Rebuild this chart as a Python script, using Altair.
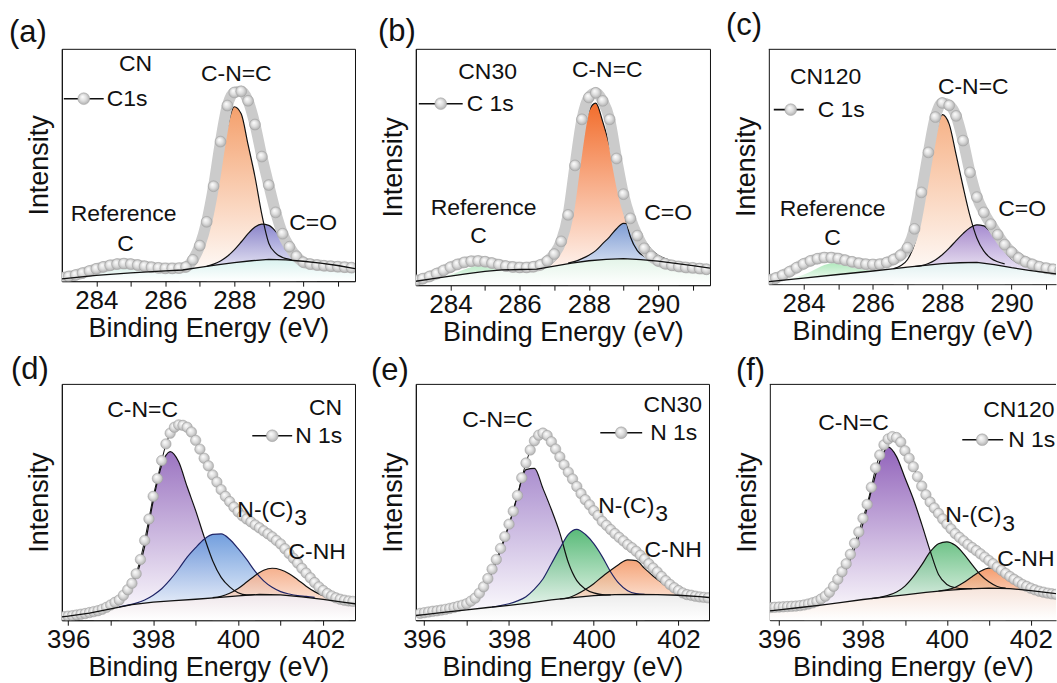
import altair as alt
import pandas as pd

FONT = "Liberation Sans"
INK = "#111111"

C_TICKS = [284, 285, 286, 287, 288, 289, 290, 291]
N_TICKS = [396, 397, 398, 399, 400, 401, 402]

# ---------------- (a) CN, C 1s ----------------
A_ENV = [1.5, 2.0, 2.6, 3.4, 4.3, 5.2, 6.0, 6.7, 7.2, 7.4,
         7.2, 6.8, 6.3, 5.9, 5.6, 5.4, 5.4, 5.5, 6.0, 9.0,
         15.0, 25.0, 40.0, 58.8, 74.0, 79.5, 80.0, 76.0, 66.0, 52.5,
         40.5, 29.0, 20.0, 14.5, 10.5, 8.0, 7.2, 6.8, 6.5, 6.3,
         6.1, 5.9, 5.7]                                   # 283.0 .. step 0.2
A_BASE_X = [283.0, 284.0, 285.0, 286.0, 286.5, 287.0, 287.5, 288.0, 288.5, 289.0, 289.5, 290.0, 290.5, 291.0, 291.5]
A_BASE = [1.0, 2.4, 3.5, 4.3, 4.7, 5.8, 6.9, 7.8, 8.6, 9.2, 9.0, 8.4, 7.6, 6.6, 5.3]
A_CNC = [4.6, 5.1, 6.6, 11.0, 20.0, 34.0, 51.0, 65.0, 73.5, 70.5, 57.5, 44.0, 28.0, 16.0, 11.8, 10.0, 9.2, 8.8]  # 286.4
A_CO = [6.3, 7.2, 8.5, 10.5, 13.2, 16.5, 20.0, 22.8, 24.0, 23.5, 21.0, 17.5, 14.0, 11.5, 9.8, 8.9, 8.2]          # 287.2
A_REF = [1.8, 2.2, 2.8, 3.6, 4.5, 5.4, 6.0, 6.2, 6.0, 5.5, 4.9, 4.4, 4.1, 4.3]                                   # 283.4

# ---------------- (b) CN30, C 1s ----------------
B_ENV = [2.0, 2.8, 3.8, 5.0, 6.4, 7.8, 9.0, 9.9, 10.4, 10.5,
         10.2, 9.6, 8.9, 8.3, 7.9, 7.7, 7.7, 8.0, 8.8, 10.5,
         13.5, 19.0, 30.5, 52.0, 72.0, 81.5, 83.5, 80.0, 72.0, 55.0,
         39.5, 29.0, 21.5, 16.0, 12.5, 10.5, 9.3, 8.6, 8.1, 7.7,
         7.5, 7.2, 6.9]
B_BASE_X = [283.0, 283.5, 284.0, 284.5, 285.0, 285.5, 286.0, 286.5, 287.0, 287.5, 288.0, 288.5, 289.0, 289.5, 290.0, 290.5, 291.0, 291.5]
B_BASE = [1.7, 2.8, 3.9, 5.0, 6.0, 6.6, 6.8, 7.0, 8.3, 9.6, 10.6, 11.2, 11.5, 11.1, 10.4, 9.5, 8.5, 7.4]
B_CNC = [7.2, 8.2, 10.5, 15.0, 25.0, 44.0, 63.0, 75.5, 79.0, 71.0, 60.5, 47.5, 33.0, 21.0, 15.0, 12.5, 11.5, 10.8]  # 286.6
B_CO = [9.6, 10.3, 11.5, 13.0, 15.0, 18.0, 21.0, 24.5, 26.8, 26.5, 23.5, 19.5, 15.5, 13.0, 11.5, 10.5, 9.8]        # 287.4
B_REF = [2.6, 3.0, 3.6, 4.5, 5.6, 6.8, 7.8, 8.5, 8.6, 8.3, 7.7, 7.1, 6.8, 6.8]                                    # 283.4

# ---------------- (c) CN120, C 1s ----------------
C_ENV = [1.8, 2.6, 3.8, 5.3, 7.0, 8.6, 9.9, 10.8, 11.3, 11.3,
         10.9, 10.2, 9.5, 8.9, 8.5, 8.4, 8.5, 9.2, 10.5, 12.3,
         15.5, 23.5, 39.0, 56.0, 71.0, 77.0, 76.0, 71.5, 61.0, 47.5,
         37.0, 30.5, 25.5, 21.0, 16.8, 13.6, 11.1, 9.5, 8.4, 7.4,
         6.8, 6.3, 5.9]
C_BASE_X = [283.0, 284.0, 285.0, 286.0, 286.5, 287.0, 287.5, 288.0, 288.5, 289.0, 289.5, 290.0, 290.5, 291.0, 291.5]
C_BASE = [1.1, 2.6, 4.1, 5.6, 6.4, 7.2, 8.0, 8.7, 9.1, 9.3, 8.3, 7.0, 5.9, 4.9, 3.9]
C_CNC = [6.6, 7.8, 10.5, 17.0, 30.0, 47.0, 63.0, 72.0, 68.0, 55.0, 41.5, 29.0, 19.5, 14.0, 11.0, 9.5, 8.6]        # 286.6
C_CO = [7.5, 7.9, 8.8, 10.3, 12.5, 15.3, 18.5, 21.5, 24.0, 25.2, 24.8, 22.0, 18.0, 14.0, 10.8, 8.8, 7.6, 6.5]    # 287.2
C_REF = [1.8, 2.3, 3.0, 4.0, 5.3, 6.8, 8.1, 8.9, 9.0, 8.6, 7.8, 6.9, 6.1, 5.7, 5.9]                              # 283.4

# ---------------- (d) CN, N 1s ----------------
D_ENV = [1.5, 1.7, 1.9, 2.2, 2.5, 2.8, 3.2, 3.6, 4.0, 4.6,
         5.4, 6.4, 7.5, 8.5, 10.5, 12.8, 15.5, 19.5, 25.5, 33.5,
         42.5, 52.0, 59.5, 67.0, 74.0, 78.5, 81.0, 82.0, 81.8, 81.0,
         79.0, 75.5, 71.8, 68.0, 64.8, 61.0, 58.0, 54.8, 52.0, 49.8,
         47.5, 45.5, 43.8, 42.5, 41.3, 40.0, 38.8, 37.5, 36.3, 35.0,
         33.5, 32.0, 30.0, 28.0, 26.0, 24.0, 21.8, 19.8, 17.8, 15.8,
         14.0, 12.5, 11.2, 10.2, 9.4, 8.8, 8.4, 8.1, 7.9]    # 395.9 .. step 0.1
D_BASE_X = [395.85, 396.0, 396.5, 397.0, 397.5, 398.0, 398.5, 399.0, 399.5, 400.0, 400.5, 401.0, 401.5, 402.0, 402.5, 402.75]
D_BASE = [1.4, 1.7, 3.0, 4.8, 6.5, 7.6, 8.2, 8.8, 9.5, 10.2, 10.8, 10.6, 9.8, 8.7, 7.5, 6.9]
D_CNC = [3.5, 4.2, 5.8, 8.2, 12.3, 18.5, 31.0, 50.0, 65.0, 70.8, 66.5, 56.0, 46.0, 35.0, 25.0, 18.0, 14.0, 11.5, 10.6, 10.7]  # 396.6
D_NC3 = [5.6, 6.3, 7.2, 8.5, 10.5, 13.2, 17.0, 21.5, 26.5, 30.5, 34.0, 36.0, 36.2, 34.0, 30.0, 25.5, 20.5, 16.5, 13.8, 12.0,
         11.0, 10.3, 10.0, 9.6]                                                                                    # 397.2
D_CNH = [9.5, 10.0, 11.3, 13.3, 16.0, 18.8, 21.0, 21.8, 21.2, 19.5, 17.0, 14.3, 12.0, 10.3, 9.3, 8.3, 7.5]          # 399.4

# ---------------- (e) CN30, N 1s ----------------
E_ENV = [2.9, 3.2, 3.5, 3.8, 4.0, 4.3, 4.6, 5.0, 5.4, 5.9,
         6.4, 7.0, 8.1, 9.4, 11.5, 14.2, 17.7, 21.7, 25.8, 30.5,
         35.5, 40.8, 46.3, 53.0, 60.5, 66.8, 72.3, 76.2, 78.6, 79.5,
         78.5, 75.8, 72.7, 69.4, 66.0, 62.9, 60.0, 56.8, 53.8, 51.2,
         49.0, 46.5, 44.5, 42.0, 40.3, 38.5, 36.8, 35.2, 33.7, 32.1,
         30.8, 29.3, 27.6, 26.0, 24.0, 22.2, 20.5, 18.6, 16.8, 15.2,
         13.8, 12.6, 11.6, 10.9, 10.6, 10.2, 9.9, 9.7, 9.5]   # 395.9 .. step 0.1
E_BASE_X = [395.8, 396.0, 396.5, 397.0, 397.5, 398.0, 398.5, 399.0, 399.5, 400.0, 400.5, 401.0, 401.5, 402.0, 402.5, 402.75]
E_BASE = [2.0, 2.4, 3.4, 4.4, 5.4, 6.3, 7.4, 8.6, 9.6, 10.4, 10.9, 11.0, 10.9, 10.6, 10.0, 9.6]
E_CNC = [3.6, 4.4, 5.8, 8.4, 13.0, 20.5, 29.5, 40.5, 53.0, 64.0, 64.5, 56.0, 47.0, 37.0, 24.5, 16.8, 13.3, 11.6, 10.9, 10.8]  # 396.6
E_NC3 = [5.6, 6.2, 7.0, 8.2, 10.0, 13.2, 17.5, 24.0, 30.5, 36.5, 38.6, 36.5, 32.5, 27.0, 20.5, 15.5, 12.5, 11.3, 11.0]  # 397.6
E_CNH = [9.0, 9.5, 11.0, 13.0, 15.5, 18.5, 21.2, 23.8, 25.6, 25.3, 22.0, 18.8, 16.0, 13.7, 11.8, 10.8, 10.3, 10.0]    # 399.2

# ---------------- (f) CN120, N 1s ----------------
F_ENV = [5.4, 5.5, 5.6, 5.7, 5.8, 5.9, 6.0, 6.2, 6.5, 6.9,
         7.4, 8.0, 9.0, 10.2, 11.9, 14.4, 17.4, 20.6, 24.0, 28.0,
         32.7, 37.5, 43.3, 49.2, 56.5, 64.7, 70.2, 74.5, 77.0, 78.0,
         77.6, 75.7, 72.0, 68.8, 65.2, 61.0, 57.0, 53.3, 50.2, 47.7,
         45.4, 43.0, 40.8, 38.8, 36.8, 35.2, 33.7, 32.2, 30.9, 29.6,
         28.2, 26.8, 25.4, 24.0, 22.6, 21.2, 19.9, 18.6, 17.4, 16.3,
         15.2, 14.4, 13.6, 12.9, 12.3, 11.9, 11.5, 11.2, 11.0]  # 395.8 .. step 0.1
F_BASE_X = [395.78, 396.0, 396.5, 397.0, 397.5, 398.0, 398.5, 399.0, 399.5, 400.0, 400.5, 401.0, 401.5, 402.0, 402.65]
F_BASE = [4.0, 4.4, 5.4, 6.4, 7.6, 8.8, 9.8, 10.8, 11.8, 12.7, 13.3, 13.6, 13.4, 12.6, 11.2]
F_CNC = [5.8, 6.6, 8.2, 11.0, 15.5, 21.8, 30.5, 41.0, 55.0, 67.5, 73.5, 69.5, 60.5, 51.5, 40.8, 29.5, 19.4, 15.2, 13.8, 13.4, 13.4]  # 396.6
F_NC3 = [9.2, 9.7, 10.6, 12.0, 14.5, 18.5, 23.5, 29.0, 32.5, 33.3, 31.8, 28.2, 23.6, 19.3, 16.3, 14.3, 13.6]       # 398.2
F_CNH = [12.4, 12.9, 14.0, 16.0, 18.5, 20.8, 22.1, 21.6, 19.4, 16.8, 14.9, 13.6, 12.6, 11.8, 11.3]                 # 399.8

# ---------------- text labels (page positions) ----------------
TXT_A = [("CN", 135, 62, "center"), ("C-N=C", 236, 72, "center"), ("C1s", 106, 97, "left"),
         ("Reference", 123, 213, "center"), ("C", 125, 243, "center"), ("C=O", 313, 222, "center")]
TXT_B = [("CN30", 487, 70, "center"), ("C-N=C", 607, 68, "center"), ("C 1s", 466, 102, "left"),
         ("Reference", 483, 207, "center"), ("C", 478, 235, "center"), ("C=O", 668, 212, "center")]
TXT_C = [("CN120", 825, 75, "center"), ("C-N=C", 973, 85, "center"), ("C 1s", 817, 108, "left"),
         ("Reference", 832, 208, "center"), ("C", 832, 237, "center"), ("C=O", 1022, 208, "center")]
TXT_D = [("C-N=C", 142, 407, "center"), ("CN", 342, 405, "right"), ("N 1s", 295, 433, "left"),
         ("N-(C)", 237, 507, "left"), ("3", 294, 516, "left"), ("C-NH", 317, 550, "center")]
TXT_E = [("C-N=C", 497, 417, "center"), ("CN30", 702, 402, "right"), ("N 1s", 650, 430, "left"),
         ("N-(C)", 598, 503, "left"), ("3", 655, 512, "left"), ("C-NH", 673, 548, "center")]
TXT_F = [("C-N=C", 853, 420, "center"), ("CN120", 983, 407, "left"), ("N 1s", 1008, 437, "left"),
         ("N-(C)", 945, 513, "left"), ("3", 1002, 522, "left"), ("C-NH", 997, 557, "left")]

ROW1_TOP = 47
ROW1_END = 348
ROW2_TOP = 381


def grid(start, step, n):
    return [round(start + step * i, 2) for i in range(n)]


def fade(color):
    return alt.LinearGradient(
        gradient="linear",
        stops=[alt.GradientStop(color=color, offset=0), alt.GradientStop(color="#ffffff", offset=1)],
        x1=0, x2=0, y1=0, y2=1)


SPHERE = alt.RadialGradient(
    gradient="radial",
    stops=[alt.GradientStop(color="#ffffff", offset=0),
           alt.GradientStop(color="#dedede", offset=0.5),
           alt.GradientStop(color="#a8a8a8", offset=1)],
    x1=0.38, y1=0.32, r1=0, x2=0.5, y2=0.5, r2=0.56)


def one():
    return pd.DataFrame({"k": [0]})


def build(p):
    ox, oy = p["origin"]
    xs = alt.Scale(domain=p["xdom"], nice=False, zero=False)
    ys = alt.Scale(domain=[0, p["ytop"]], nice=False, zero=False)
    X = alt.X("x:Q", scale=xs, axis=alt.Axis(
        orient="bottom", values=p["ticks"], format="d",
        labelExpr="datum.value % 2 == 0 ? datum.label : ''", title="Binding Energy (eV)"))
    Y = alt.Y("y:Q", scale=ys, axis=alt.Axis(
        orient="left", title="Intensity", labels=False, ticks=False, titlePadding=8))
    layers = []
    for cx, cy, col, lcol, op in p["comps"]:
        layers.append(alt.Chart(pd.DataFrame({"x": cx, "y": cy})).mark_area(
            fill=fade(col), fillOpacity=op, interpolate="monotone", clip=True).encode(x=X, y=Y))
    bdf = pd.DataFrame({"x": p["base"][0], "y": p["base"][1]})
    layers.append(alt.Chart(bdf).mark_area(fill=fade(p["under"]), clip=True).encode(x=X, y=Y))
    for cx, cy, col, lcol, op in p["comps"]:
        if lcol:
            layers.append(alt.Chart(pd.DataFrame({"x": cx, "y": cy})).mark_line(
                color=lcol, strokeWidth=1.2, interpolate="monotone", clip=True).encode(x=X, y=Y))
    edf = pd.DataFrame({"x": p["env"][0], "y": p["env"][1]})
    if p["band"]:
        layers.append(alt.Chart(edf).mark_line(
            color="#cbcbcb", strokeWidth=11, strokeCap="round", strokeJoin="round",
            interpolate="monotone", clip=True).encode(x=X, y=Y))
    else:
        layers.append(alt.Chart(edf).mark_line(color=INK, strokeWidth=1, clip=True).encode(x=X, y=Y))
    layers.append(alt.Chart(edf).mark_circle(
        fill=SPHERE, size=p["dot"], stroke="#9e9e9e", strokeWidth=0.5, opacity=1, clip=True).encode(x=X, y=Y))
    layers.append(alt.Chart(bdf).mark_line(color=INK, strokeWidth=1.3, clip=True).encode(x=X, y=Y))
    if p["open"]:
        layers.append(alt.Chart(one()).mark_rule(color=INK, strokeWidth=1).encode(
            x=alt.value(0), x2=alt.value(p["w"]), y=alt.value(0.5)))
    # legend glyph
    l1, l2, lc, ly = p["legend"]
    layers.append(alt.Chart(one()).mark_rule(color=INK, strokeWidth=1.6, clip=True).encode(
        x=alt.value(l1 - ox), x2=alt.value(l2 - ox), y=alt.value(ly - oy)))
    layers.append(alt.Chart(one()).mark_circle(
        fill=SPHERE, size=140, stroke="#9e9e9e", strokeWidth=0.5, opacity=1, clip=True).encode(
        x=alt.value(lc - ox), y=alt.value(ly - oy)))
    for t, tx, ty, al in p["texts"]:
        layers.append(alt.Chart(one()).mark_text(
            text=t, font=FONT, fontSize=23, align=al, baseline="middle", color=INK, clip=True).encode(
            x=alt.value(tx - ox), y=alt.value(ty - oy)))
    # panel letter
    layers.append(alt.Chart(one()).mark_text(
        text=p["label"], font=FONT, fontSize=31, align="left", baseline="middle", color=INK).encode(
        x=alt.value(p["lab"][0] - ox), y=alt.value(p["lab"][1] - oy)))
    # invisible layout anchors
    lx, top_abs = p["anchor"]
    layers.append(alt.Chart(one()).mark_rule(strokeOpacity=0, strokeWidth=1).encode(
        x=alt.value(-lx), x2=alt.value(-lx + 0.5), y=alt.value(top_abs - oy), y2=alt.value(top_abs - oy + 0.5)))
    if p.get("bottom") is not None:
        layers.append(alt.Chart(one()).mark_rule(strokeOpacity=0, strokeWidth=1).encode(
            x=alt.value(0), x2=alt.value(0.5), y=alt.value(p["bottom"] - oy), y2=alt.value(p["bottom"] - oy + 0.5)))
    ch = alt.layer(*layers).properties(width=p["w"], height=p["h"])
    if p["open"]:
        ch = ch.properties(view=alt.ViewBackground(stroke="transparent"))
    return ch


PANELS = [
    dict(label="(a)", lab=(8, 31.5), origin=(61, ROW1_TOP), xdom=[283.0, 291.5], w=294, h=233, ytop=97.9,
         anchor=(61, 0), bottom=ROW1_END, ticks=C_TICKS, dot=120, band=True, open=False, under="#d9f2ef",
         env=(grid(283.0, 0.2, len(A_ENV)), A_ENV), base=(A_BASE_X, A_BASE),
         comps=[(grid(286.4, 0.2, len(A_CNC)), A_CNC, "#f4a06c", INK, 1.0),
                (grid(287.2, 0.2, len(A_CO)), A_CO, "#7b78c9", INK, 0.88),
                (grid(283.4, 0.2, len(A_REF)), A_REF, "#d5efe8", None, 0.9)],
         legend=(63, 103, 83, 97), texts=TXT_A),
    dict(label="(b)", lab=(377, 30), origin=(415, ROW1_TOP), xdom=[283.0, 291.5], w=295, h=237, ytop=102.6,
         anchor=(59.5, 0), bottom=ROW1_END, ticks=C_TICKS, dot=120, band=True, open=False, under="#e3f4e8",
         env=(grid(283.0, 0.2, len(B_ENV)), B_ENV), base=(B_BASE_X, B_BASE),
         comps=[(grid(286.6, 0.2, len(B_CNC)), B_CNC, "#f26d2c", INK, 1.0),
                (grid(287.4, 0.2, len(B_CO)), B_CO, "#6e96d8", INK, 0.88),
                (grid(283.4, 0.2, len(B_REF)), B_REF, "#b6e9c3", None, 0.9)],
         legend=(418, 462, 440, 102), texts=TXT_B),
    dict(label="(c)", lab=(725, 24), origin=(768, ROW1_TOP), xdom=[283.0, 291.28], w=288, h=236, ytop=100,
         anchor=(57.5, 0), bottom=ROW1_END, ticks=C_TICKS, dot=120, band=True, open=True, under="#dff0f0",
         env=(grid(283.0, 0.2, len(C_ENV)), C_ENV), base=(C_BASE_X, C_BASE),
         comps=[(grid(286.6, 0.2, len(C_CNC)), C_CNC, "#f6b287", INK, 1.0),
                (grid(287.2, 0.2, len(C_CO)), C_CO, "#9a7bc9", INK, 0.88),
                (grid(283.4, 0.2, len(C_REF)), C_REF, "#a8e6b6", None, 0.9)],
         legend=(773, 803, 790, 108), texts=TXT_C),
    dict(label="(d)", lab=(10, 367.5), origin=(61, ROW2_TOP), xdom=[395.85, 402.75], w=294, h=237, ytop=99.2,
         anchor=(61, ROW1_END), bottom=None, ticks=N_TICKS, dot=110, band=False, open=False, under="#efe6ea",
         env=(grid(395.9, 0.1, len(D_ENV)), D_ENV), base=(D_BASE_X, D_BASE),
         comps=[(grid(396.6, 0.2, len(D_CNC)), D_CNC, "#9b74c1", INK, 1.0),
                (grid(397.2, 0.2, len(D_NC3)), D_NC3, "#5a8ed8", "#1f2466", 0.85),
                (grid(399.4, 0.2, len(D_CNH)), D_CNH, "#f4a37a", INK, 0.85)],
         legend=(252, 292, 272, 433), texts=TXT_D),
    dict(label="(e)", lab=(370, 368), origin=(415, ROW2_TOP), xdom=[395.8, 402.72], w=294, h=237, ytop=100.4,
         anchor=(59.5, ROW1_END), bottom=None, ticks=N_TICKS, dot=110, band=False, open=False, under="#ececec",
         env=(grid(395.9, 0.1, len(E_ENV)), E_ENV), base=(E_BASE_X, E_BASE),
         comps=[(grid(396.6, 0.2, len(E_CNC)), E_CNC, "#ab8fcf", INK, 1.0),
                (grid(397.6, 0.2, len(E_NC3)), E_NC3, "#3daf62", "#1f2466", 0.85),
                (grid(399.2, 0.2, len(E_CNH)), E_CNH, "#f39460", INK, 0.85)],
         legend=(600, 642, 621, 430), texts=TXT_E),
    dict(label="(f)", lab=(735, 368), origin=(769, ROW2_TOP), xdom=[395.78, 402.6], w=287, h=237, ytop=100.4,
         anchor=(59.5, ROW1_END), bottom=None, ticks=N_TICKS, dot=110, band=False, open=True, under="#f6e4db",
         env=(grid(395.8, 0.1, len(F_ENV)), F_ENV), base=(F_BASE_X, F_BASE),
         comps=[(grid(396.6, 0.2, len(F_CNC)), F_CNC, "#9264bb", INK, 1.0),
                (grid(398.2, 0.2, len(F_NC3)), F_NC3, "#56b874", INK, 0.85),
                (grid(399.8, 0.2, len(F_CNH)), F_CNH, "#f38c55", INK, 0.85)],
         legend=(962, 1003, 982, 437), texts=TXT_F),
]

charts = [build(p) for p in PANELS]
row1 = alt.hconcat(charts[0], charts[1], charts[2], spacing=0)
row2 = alt.hconcat(charts[3], charts[4], charts[5], spacing=0)

chart = alt.vconcat(row1, row2, spacing=0).properties(
    padding={"left": 0, "top": 0, "right": 0, "bottom": 0}
).configure_view(
    stroke=INK, strokeWidth=1
).configure_axis(
    labelFont=FONT, labelFontSize=26, titleFont=FONT, titleFontSize=27, titleFontWeight="normal",
    labelColor=INK, titleColor=INK, domainColor=INK, domainWidth=1, tickColor=INK, tickWidth=1,
    tickSize=5, labelPadding=1, titlePadding=2, grid=False, labelFlush=False, labelOverlap=False
)

chart.save("out.html", embed_options={"renderer": "svg", "actions": False})
